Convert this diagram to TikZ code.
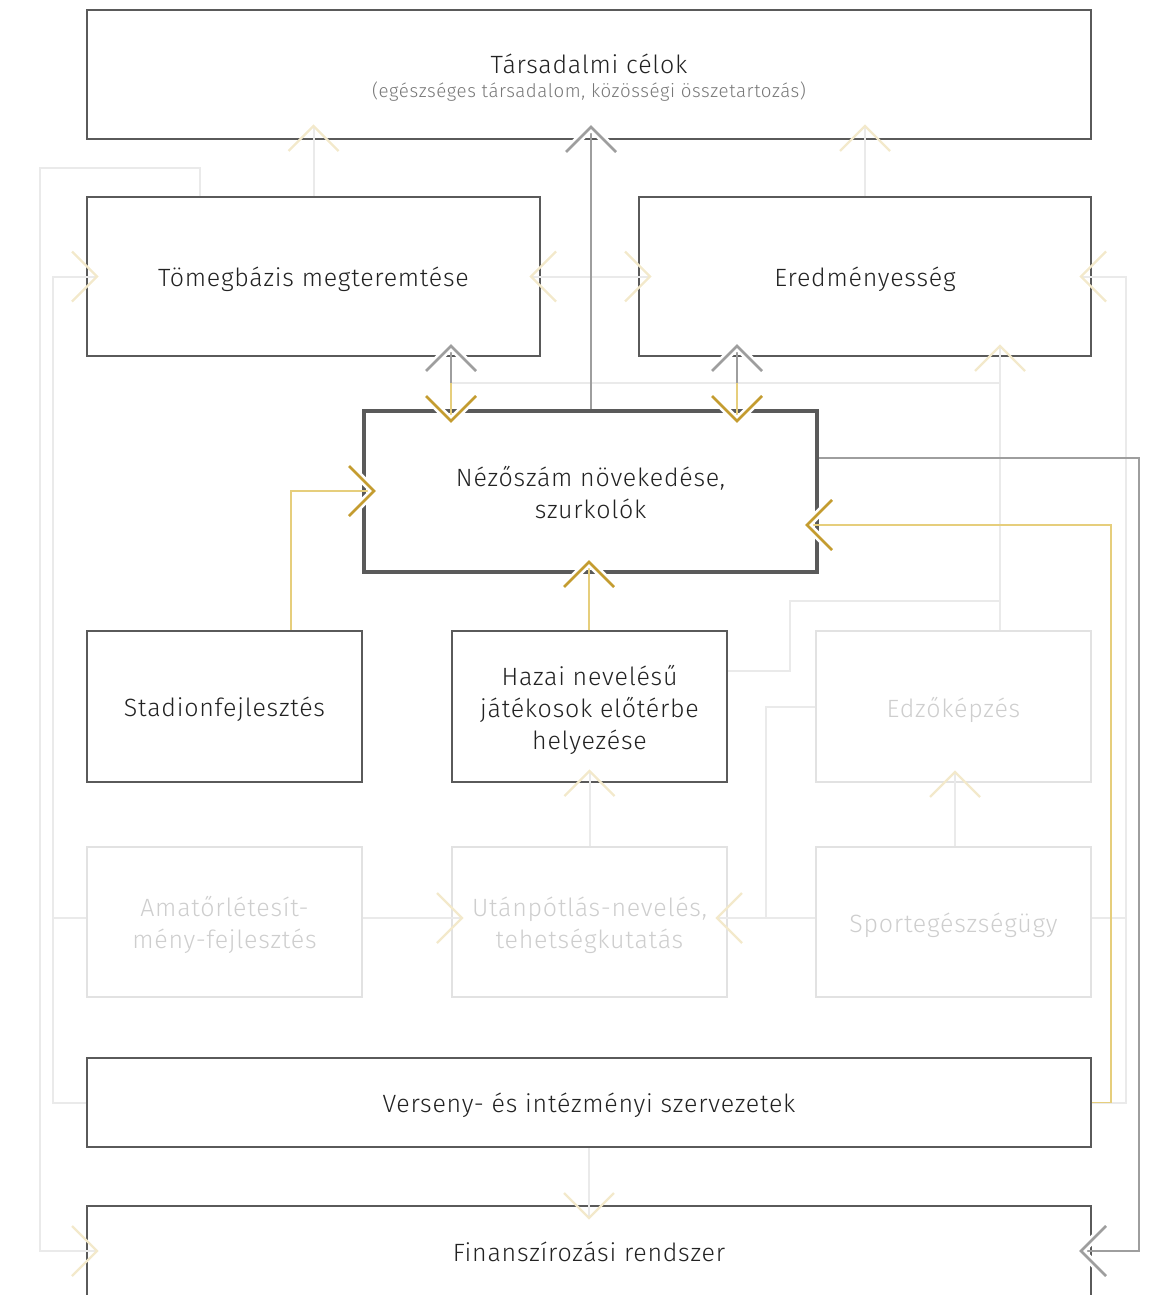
\documentclass[tikz,border=0pt]{standalone}
\usepackage{fontspec}
\setmainfont{Fira Sans}[UprightFont={* Light}, LetterSpace=3]
\usetikzlibrary{calc}

\definecolor{boxline}{RGB}{90,90,90}
\definecolor{ink}{RGB}{34,34,34}
\definecolor{subink}{RGB}{120,120,120}
\definecolor{goldtip}{RGB}{196,156,48}
\definecolor{goldline}{RGB}{230,206,124}
\definecolor{greyline}{RGB}{158,158,158}
\definecolor{paleline}{RGB}{234,234,234}
\definecolor{palebox}{RGB}{226,226,226}
\definecolor{paleink}{RGB}{206,206,206}
\definecolor{paletip}{RGB}{243,233,203}

\tikzset{
  box/.style={draw=boxline, line width=2pt, rectangle, inner sep=0pt},
  palebox/.style={box, draw=palebox},
  keybox/.style={box, line width=3.5pt},
  label/.style={align=center, text=ink, inner sep=0pt,
    font=\fontsize{25}{32}\selectfont},
  palelabel/.style={label, text=paleink},
  greyc/.style={draw=greyline, line width=1.6pt},
  goldc/.style={draw=goldline, line width=1.8pt},
  palec/.style={draw=paleline, line width=2pt},
  % open chevron heads; tip at the pic origin, y axis points down
  pics/chevup/.style={code={
    \ifx#1p\else\draw[white, line width=8pt] (-25,25) -- (0,0) -- (25,25);\fi
    \draw[#1tip] (-25,25) -- (0,0) -- (25,25);}},
  pics/chevdown/.style={code={
    \ifx#1p\else\draw[white, line width=8pt] (-25,-25) -- (0,0) -- (25,-25);\fi
    \draw[#1tip] (-25,-25) -- (0,0) -- (25,-25);}},
  pics/chevleft/.style={code={
    \ifx#1p\else\draw[white, line width=8pt] (25,-25) -- (0,0) -- (25,25);\fi
    \draw[#1tip] (25,-25) -- (0,0) -- (25,25);}},
  pics/chevright/.style={code={
    \ifx#1p\else\draw[white, line width=8pt] (-25,-25) -- (0,0) -- (-25,25);\fi
    \draw[#1tip] (-25,-25) -- (0,0) -- (-25,25);}},
  gtip/.style={draw=goldtip, line width=2.6pt},
  rtip/.style={draw=greyline, line width=2.6pt},
  ptip/.style={draw=paletip, line width=2.2pt},
}

\begin{document}
\begin{tikzpicture}[x=1pt, y=-1pt]
\useasboundingbox (0,0) rectangle (1164,1295);

% ---------- boxes ----------
\node[box, minimum width=1004pt, minimum height=129pt] (top) at (589,74.5) {};
\node[box, minimum width=453pt, minimum height=159pt] (tom) at (313.5,276.5) {};
\node[box, minimum width=452pt, minimum height=159pt] (ere) at (865,276.5) {};
\node[keybox, minimum width=453pt, minimum height=161pt] (nez) at (590.5,491.5) {};
\node[box, minimum width=275pt, minimum height=151pt] (sta) at (224.5,706.5) {};
\node[box, minimum width=275pt, minimum height=151pt] (haz) at (589.5,706.5) {};
\node[palebox, minimum width=275pt, minimum height=151pt] (edz) at (953.5,706.5) {};
\node[palebox, minimum width=275pt, minimum height=150pt] (ama) at (224.5,922) {};
\node[palebox, minimum width=275pt, minimum height=150pt] (uta) at (589.5,922) {};
\node[palebox, minimum width=275pt, minimum height=150pt] (spo) at (953.5,922) {};
\node[box, minimum width=1004pt, minimum height=89pt] (ver) at (589,1102.5) {};
\node[box, minimum width=1004pt, minimum height=96pt] (fin) at (589,1254) {};

% ---------- box texts ----------
\node[label] (toptitle) at (589,64) {Társadalmi célok};
\node[label, text=subink, font=\fontsize{18.7}{22}\selectfont] (topsub) at (589,92)
  {(egészséges társadalom, közösségi összetartozás)};
\node[label] (tomtxt) at ($(tom.center)+(0,3)$) {Tömegbázis megteremtése};
\node[label] (eretxt) at ($(ere.center)+(0,3)$) {Eredményesség};
\node[label] (neztxt) at ($(nez.center)+(0,1)$) {Nézőszám növekedése,\\szurkolók};
\node[label] (statxt) at ($(sta.center)+(0,3)$) {Stadionfejlesztés};
\node[label] (haztxt) at ($(haz.center)+(0,3)$) {Hazai nevelésű\\játékosok előtérbe\\helyezése};
\node[palelabel] (edztxt) at ($(edz.center)+(0,3)$) {Edzőképzés};
\node[palelabel] (amatxt) at ($(ama.center)+(0,3)$) {Amatőrlétesít-\\mény-fejlesztés};
\node[palelabel] (utatxt) at ($(uta.center)+(0,3)$) {Utánpótlás-nevelés,\\tehetségkutatás};
\node[palelabel] (spotxt) at ($(spo.center)+(0,3)$) {Sportegészségügy};
\node[label] (vertxt) at ($(ver.center)+(0,3)$) {Verseny- és intézményi szervezetek};
\node[label] (fintxt) at (589,1252) {Finanszírozási rendszer};

% ---------- pale connectors ----------
\draw[palec] (tom.north) -- ++(0,-70) coordinate (t1);
\draw[palec] (ere.north) -- ++(0,-70) coordinate (t2);
\draw[palec] ($(tom.east)+(-10,0)$) coordinate (t3) -- ($(ere.west)+(12,0)$) coordinate (t4);
\draw[palec] (edz.north -| 1000,0) -- (1000,346) coordinate (t5);
\draw[palec] (1000,383) -- (451,383);
\draw[palec] (haz.east |- 0,671) -- (790,671) -- (790,601) -- (1000,601);
\draw[palec] (uta.north) -- ++(0,-75) coordinate (t6);
\draw[palec] (spo.north -| 955,0) -- (955,772) coordinate (t7);
\draw[palec] (ama.east |- 0,918) -- (462,918) coordinate (t8);
\draw[palec] (spo.west |- 0,918) -- (717,918) coordinate (t9);
\draw[palec] (edz.west) -- (766,706.5) -- (766,918);
\draw[palec] (ver.south) -- (589,1218) coordinate (t10);
% left trunk: Verseny and Amatőr up to Tömegbázis
\draw[palec] (ver.west) -- (53,1102.5) -- (53,276.5) -- (97,276.5) coordinate (t11);
\draw[palec] (ama.west |- 0,918) -- (53,918);
% outer left loop: Tömegbázis down to Finanszírozás
\draw[palec] (tom.north -| 200,0) -- (200,168) -- (40,168) -- (40,1251) -- (97,1251) coordinate (t12);
% right trunk: Verseny and Sportegészségügy up to Eredményesség
\draw[palec] (ver.east) -- (1126,1102.5) -- (1126,276.5) -- (1081,276.5) coordinate (t13);
\draw[palec] (spo.east |- 0,918) -- (1126,918);

% ---------- grey connectors ----------
\draw[greyc] (nez.north -| 591,0) -- (591,127) coordinate (g1);
\draw[greyc] (451,383) -- (451,346) coordinate (g2);
\draw[greyc] (737,383) -- (737,346) coordinate (g3);
\draw[greyc] (nez.east |- 0,458) -- (1139,458) -- (1139,1251) -- (1081,1251) coordinate (g4);

% ---------- gold connectors ----------
\draw[goldc] (451,383) -- (451,421) coordinate (y1);
\draw[goldc] (737,383) -- (737,421) coordinate (y2);
\draw[goldc] (sta.north -| 291,0) -- (291,491) -- (374,491) coordinate (y3);
\draw[goldc] (haz.north -| 589,0) -- (589,562) coordinate (y4);
\draw[goldc] (ver.east) -- (1111,1102.5) -- (1111,525) -- (807,525) coordinate (y5);

% ---------- heads ----------
\pic at (t1) {chevup=p};
\pic at (t2) {chevup=p};
\pic at (t3) {chevleft=p};
\pic at (t4) {chevright=p};
\pic at (t5) {chevup=p};
\pic at (t6) {chevup=p};
\pic at (t7) {chevup=p};
\pic at (t8) {chevright=p};
\pic at (t9) {chevleft=p};
\pic at (t10) {chevdown=p};
\pic at (t11) {chevright=p};
\pic at (t12) {chevright=p};
\pic at (t13) {chevleft=p};

\pic at (g1) {chevup=r};
\pic at (g2) {chevup=r};
\pic at (g3) {chevup=r};
\pic at (g4) {chevleft=r};

\pic at (y1) {chevdown=g};
\pic at (y2) {chevdown=g};
\pic at (y3) {chevright=g};
\pic at (y4) {chevup=g};
\pic at (y5) {chevleft=g};
\end{tikzpicture}
\end{document}
